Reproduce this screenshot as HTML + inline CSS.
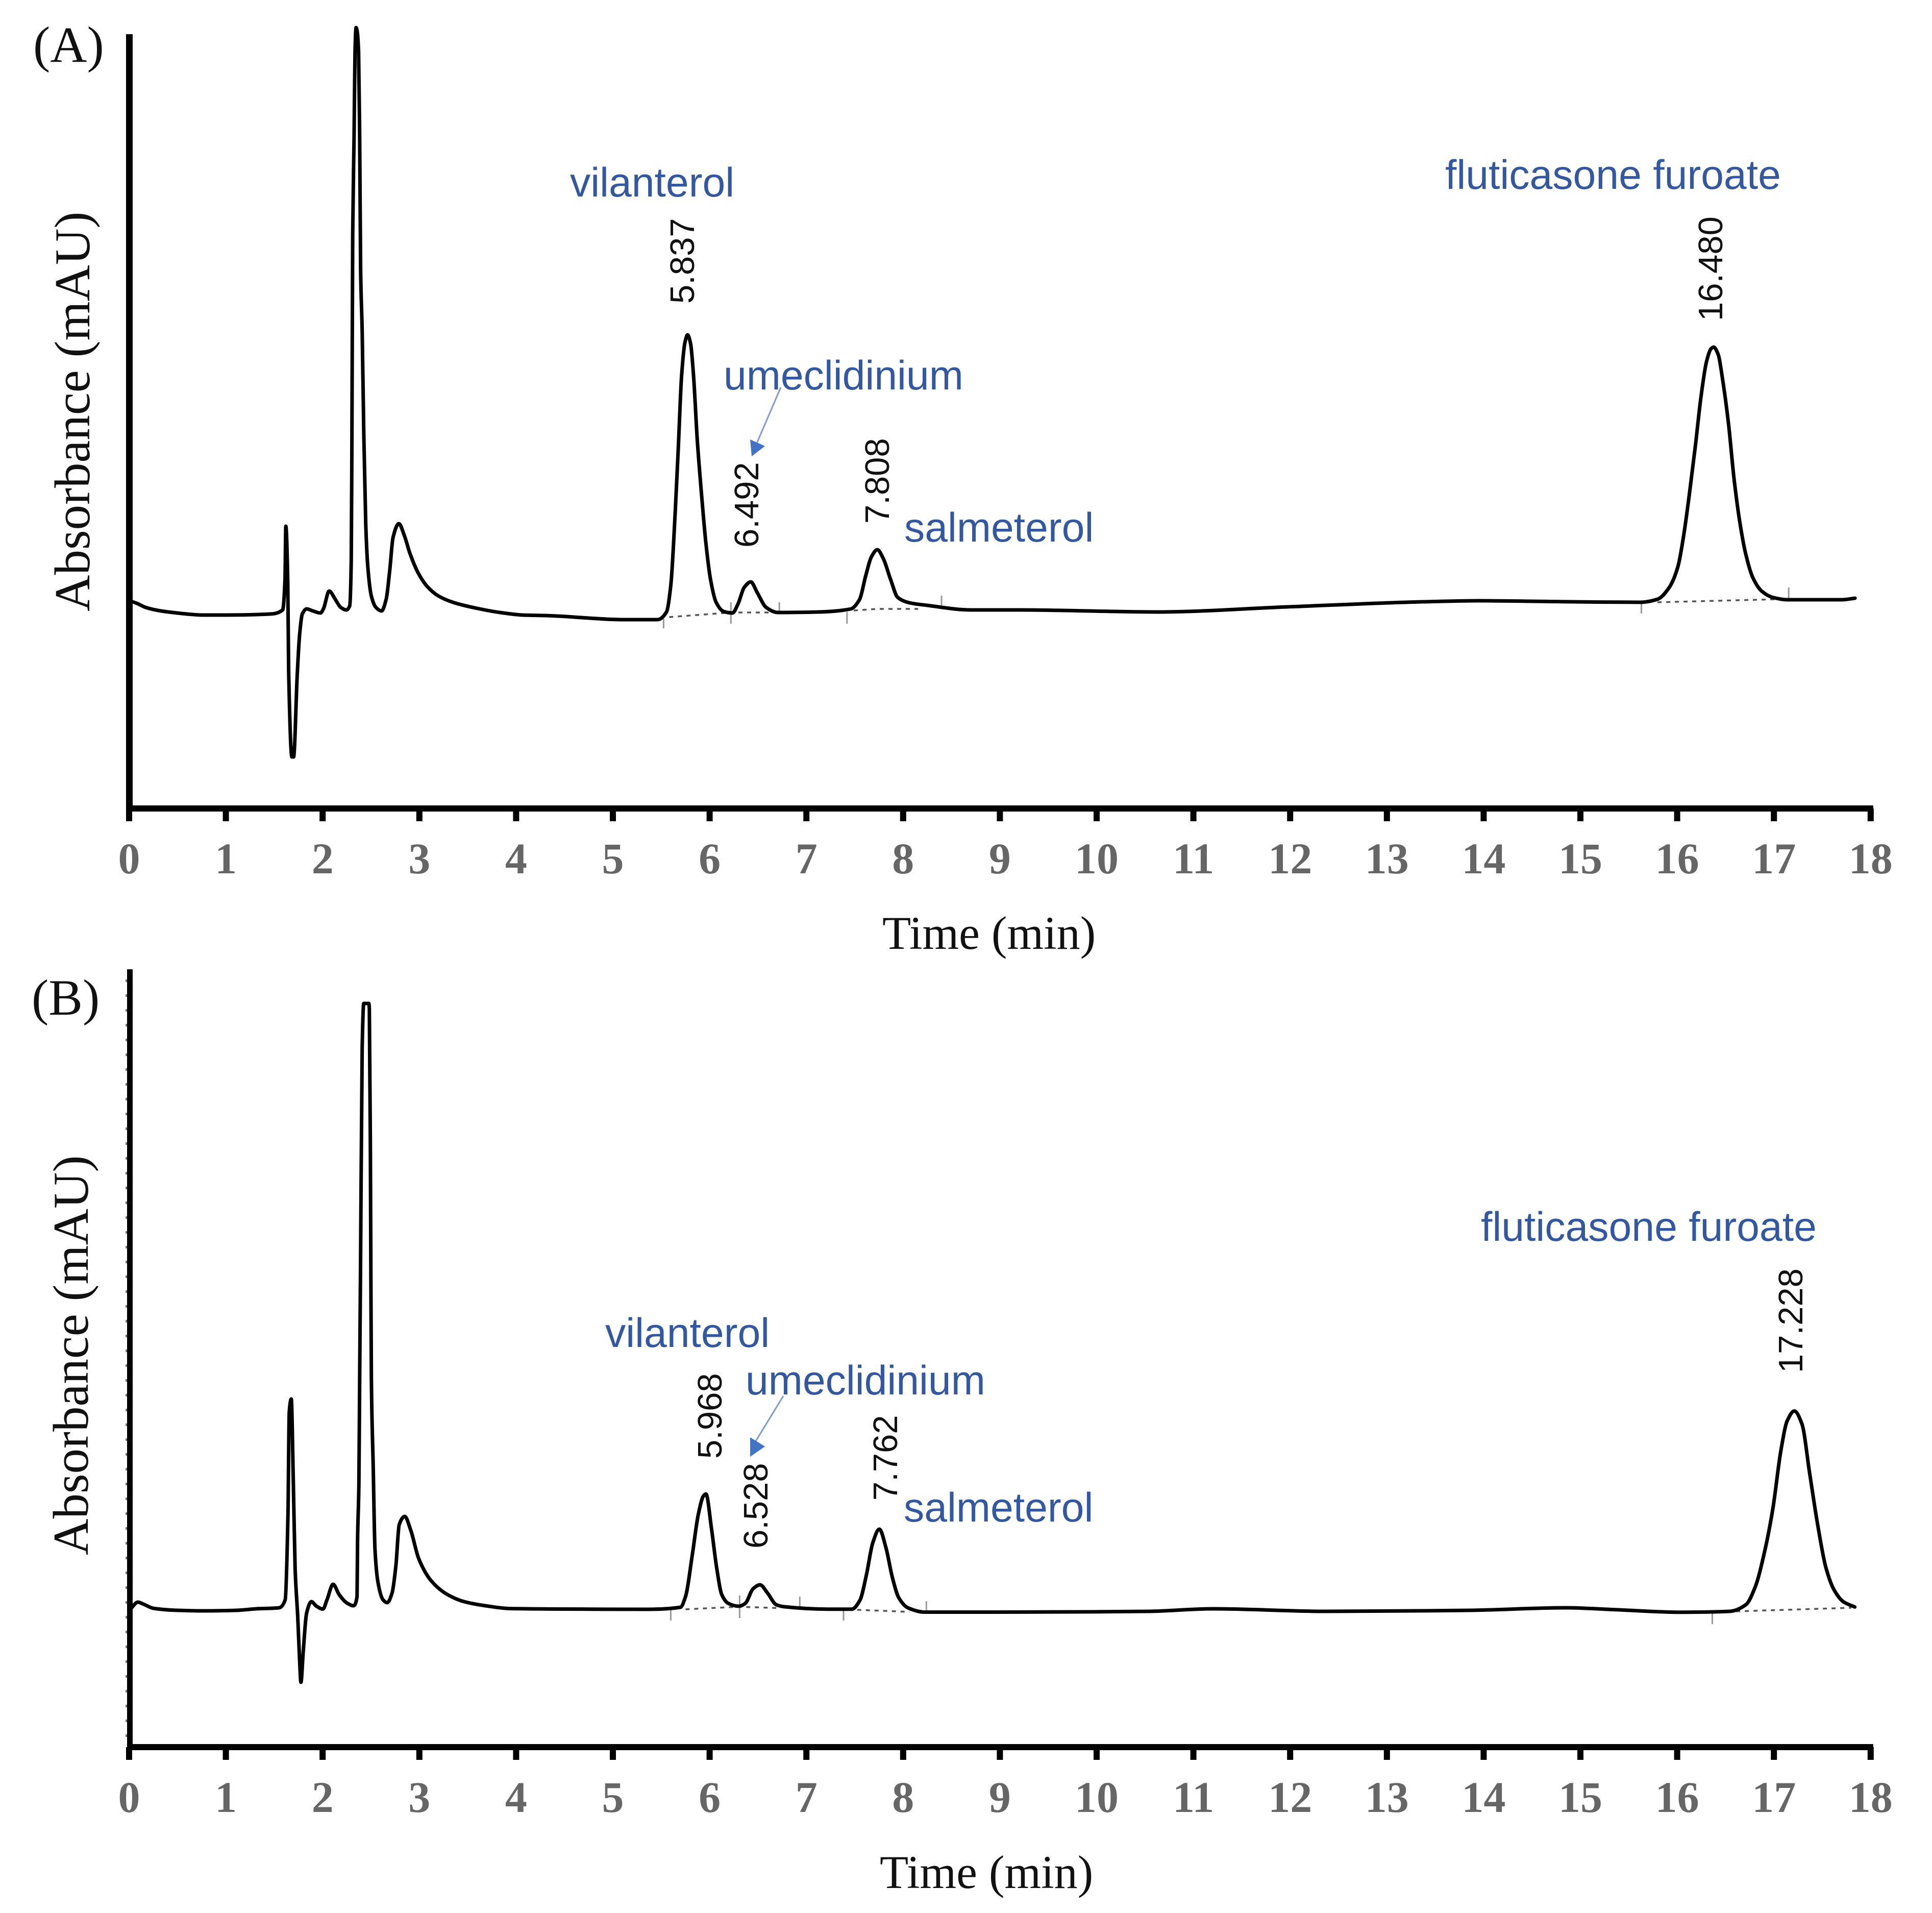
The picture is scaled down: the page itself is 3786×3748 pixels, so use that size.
<!DOCTYPE html>
<html lang="en">
<head>
<meta charset="utf-8">
<title>HPLC chromatograms A and B</title>
<style>
html,body{margin:0;padding:0;background:#fff;}
svg{display:block;}
.serif{font-family:"Liberation Serif",serif;}
.sans{font-family:"Liberation Sans",sans-serif;}
.tick-label{font-family:"Liberation Serif",serif;font-weight:bold;font-size:86px;fill:#666;text-anchor:middle;}
.axis-title{font-family:"Liberation Serif",serif;font-size:92px;fill:#111;}
.y-title{font-family:"Liberation Serif",serif;font-size:99px;fill:#111;}
.panel-letter{font-family:"Liberation Serif",serif;font-size:100px;fill:#111;}
.compound{font-family:"Liberation Sans",sans-serif;font-size:80.5px;fill:#33589f;}
.rt{font-family:"Liberation Sans",sans-serif;font-size:67px;fill:#111;}
</style>
</head>
<body>
<svg id="chart" xmlns="http://www.w3.org/2000/svg" width="3786" height="3748" viewBox="0 0 3786 3748">
  <rect x="0" y="0" width="3786" height="3748" fill="#ffffff"/>

  <g id="panelA"></g>
  <g id="panelB"></g>

  <text class="panel-letter" x="65" y="121">(A)</text>
  <text class="panel-letter" x="62" y="1988">(B)</text>

  <text class="y-title" transform="translate(175,1198) rotate(-90)">Absorbance (mAU)</text>
  <text class="y-title" transform="translate(172,3047) rotate(-90)">Absorbance (mAU)</text>
  <text class="axis-title" x="1729" y="1859">Time (min)</text>
  <text class="axis-title" x="1724" y="3699">Time (min)</text>

  <text class="compound" x="1117" y="385">vilanterol</text>
  <text class="compound" x="1418" y="763">umeclidinium</text>
  <text class="compound" x="1772" y="1061">salmeterol</text>
  <text class="compound" x="2832" y="370">fluticasone furoate</text>

  <text class="rt" transform="translate(1360,595) rotate(-90)">5.837</text>
  <text class="rt" transform="translate(1486,1073) rotate(-90)">6.492</text>
  <text class="rt" transform="translate(1742,1026) rotate(-90)">7.808</text>
  <text class="rt" transform="translate(3375,629) rotate(-90)">16.480</text>

  <line x1="1530" y1="759" x2="1478" y2="880" stroke="#7f9bd0" stroke-width="3"/>
  <polygon points="1470,861 1499,874 1473,894" fill="#4472c4"/>

  <text class="compound" x="1186" y="2639">vilanterol</text>
  <text class="compound" x="1461" y="2732">umeclidinium</text>
  <text class="compound" x="1771" y="2981">salmeterol</text>
  <text class="compound" x="2902" y="2431">fluticasone furoate</text>

  <text class="rt" transform="translate(1414,2858) rotate(-90)">5.968</text>
  <text class="rt" transform="translate(1504,3034) rotate(-90)">6.528</text>
  <text class="rt" transform="translate(1758,2940) rotate(-90)">7.762</text>
  <text class="rt" transform="translate(3532,2690) rotate(-90)">17.228</text>

  <line x1="1535" y1="2735" x2="1480" y2="2825" stroke="#7f9bd0" stroke-width="3"/>
  <polygon points="1470,2816 1499,2834 1470,2854" fill="#4472c4"/>
</svg>

<script>
// ---- shared axis data ----
var tickValues = [0,1,2,3,4,5,6,7,8,9,10,11,12,13,14,15,16,17,18];
var tickLabels = ["0","1","2","3","4","5","6","7","8","9","10","11","12","13","14","15","16","17","18"];

// ---- panel A: time (min) and signal (mAU, arbitrary) ----
var timeA = [0.02,0.08,0.17,0.30,0.45,0.775,0.99,1.457,1.587,1.611,1.62,1.64,1.649,1.683,1.70,1.738,1.762,1.79,1.835,1.90,1.977,2.008,2.068,2.13,2.187,2.245,2.28,2.296,2.303,2.311,2.325,2.335,2.346,2.356,2.372,2.383,2.393,2.409,2.425,2.446,2.467,2.504,2.551,2.609,2.657,2.694,2.728,2.788,2.846,2.904,2.989,3.081,3.2,3.363,3.6,3.832,4.069,4.306,5.129,5.461,5.554,5.598,5.645,5.677,5.711,5.746,5.772,5.803,5.833,5.872,5.917,5.962,6.009,6.067,6.144,6.236,6.294,6.357,6.425,6.492,6.584,6.705,7.126,7.459,7.551,7.612,7.672,7.733,7.794,7.87,7.944,8.065,8.248,8.703,9.209,10.627,11.971,13.379,13.954,14.907,15.618,15.797,15.918,16.008,16.065,16.125,16.188,16.246,16.304,16.351,16.377,16.425,16.467,16.53,16.588,16.646,16.707,16.783,16.873,16.989,17.139,17.706,17.838];
var signalA = [203,201,197,194,192,189.5,189.5,190.5,194.5,224,276.5,221,134.5,50.5,50.5,131.5,170,190.5,195.5,193.5,191.5,195.5,213,205,197,194.5,198.5,243,364.5,562.5,657,742,765,762,741,658,527,467,371,278,237,208,197,193.5,205,233.5,265.5,279,267,249.5,230.5,217.5,208,201.5,196,192,189.5,189,185,185,192.5,218,291.5,355,425,457,464,455.5,425,361.5,307,259.5,224.5,202,193,191.5,200.5,216.5,222,211.5,197,192,192.5,195.5,205,227.5,246.5,253.5,245,224.5,206.75,201.5,199,194.5,194.5,192.5,197.5,202.5,203.5,202.5,202,205,216.5,237,266,307,355,403,438,450.5,452,444.5,422,377.5,323,281.5,250,226,213,206.75,204.5,204.5,206];
var markerTimesA = [5.524,6.22,6.72,7.42,8.397,15.63,17.153];
var markerLowA = [176.5,181,192.5,181,199,191,205];
var markerHighA = [186,202,202,192.5,208.5,202,216.5];
var baselineTimesA = [[5.582,6.22,6.642],[7.49,7.733,8.155],[15.797,17.045]];
var baselineValuesA = [[187.5,192,192],[194,195.5,195.5],[202,205]];

// ---- panel B ----
var timeB = [0.02,0.09,0.15,0.25,0.5,0.775,1.112,1.313,1.55,1.613,1.642,1.655,1.676,1.697,1.716,1.743,1.761,1.776,1.8,1.834,1.884,1.934,2.003,2.045,2.108,2.172,2.254,2.319,2.356,2.361,2.375,2.383,2.392,2.409,2.425,2.478,2.483,2.494,2.499,2.504,2.523,2.541,2.573,2.625,2.667,2.718,2.757,2.792,2.849,2.91,2.994,3.126,3.294,3.463,3.7,3.935,4.472,5.345,5.698,5.751,5.82,5.883,5.936,5.962,6.02,6.073,6.125,6.194,6.302,6.368,6.45,6.521,6.598,6.689,6.774,7.23,7.47,7.554,7.62,7.686,7.754,7.822,7.888,7.954,8.049,8.223,8.945,10.53,11.2,12.37,13.858,14.85,15.35,16.046,16.541,16.71,16.807,16.905,16.989,17.073,17.137,17.211,17.29,17.369,17.453,17.537,17.622,17.717,17.836];
var signalB = [135,141,139,135,133,132.5,133,134.5,135.5,143.25,227,327,340,260.5,173.5,126.5,86.5,62.5,93,130,141.5,137.25,134.25,143.25,158.5,148.25,140,137.5,146.5,200,257,360.5,470.5,684.5,727.5,727.5,722.5,579,456.5,360.5,273.5,193.5,160,143.25,140.5,150,176.5,217,225,211.75,183.5,161.5,148.25,141.5,137.25,134.75,134.25,134,136,146.5,186.7,227,245,247,212.5,174.5,148.5,139.75,137,139.75,154.25,158,150,138.5,136.5,134.15,134.15,143,167.5,199,212.5,194.5,165.5,145.5,135.5,131.25,131.25,132,134.5,132,133,135.5,133.7,131.15,132,138.5,156,191,232.5,290,318.5,328.25,315.5,267.5,216.5,175,153,141.5,136.25];
var markerTimesB = [5.598,6.31,6.932,7.384,8.24,16.363];
var markerLowB = [123,125.5,135.5,123,132,119.5];
var markerHighB = [135.5,147.5,146.5,134,142,132];
var baselineTimesB = [[5.751,6.302,6.689],[7.525,8.065],[16.61,17.8]];
var baselineValuesB = [[134,136.5,135.3],[133.5,131.5],[132,135.5]];

var SVG_NS = "http://www.w3.org/2000/svg";

function xScale(t){ return 253 + 189.6 * t; }
function makeYScale(zeroY){ return function(v){ return zeroY - 2 * v; }; }

// monotone cubic path so sharp spikes do not overshoot
function monotonePath(xs, ys){
  var n = xs.length, d = [], m = [], i;
  for(i = 0; i < n - 1; i++){ d.push((ys[i+1] - ys[i]) / (xs[i+1] - xs[i])); }
  m.push(d[0]);
  for(i = 1; i < n - 1; i++){
    if(d[i-1] * d[i] <= 0){ m.push(0); }
    else{
      var h0 = xs[i] - xs[i-1], h1 = xs[i+1] - xs[i];
      m.push(3 * (h0 + h1) / ((2 * h1 + h0) / d[i-1] + (h1 + 2 * h0) / d[i]));
    }
  }
  m.push(d[n-2]);
  var p = "M" + xs[0].toFixed(2) + " " + ys[0].toFixed(2);
  for(i = 0; i < n - 1; i++){
    var h = (xs[i+1] - xs[i]) / 3;
    p += "C" + (xs[i] + h).toFixed(2) + " " + (ys[i] + m[i] * h).toFixed(2) + " " +
         (xs[i+1] - h).toFixed(2) + " " + (ys[i+1] - m[i+1] * h).toFixed(2) + " " +
         xs[i+1].toFixed(2) + " " + ys[i+1].toFixed(2);
  }
  return p;
}

function drawPanel(group, opts){
  var y = makeYScale(opts.zeroY);
  var lineY = opts.axisY;

  var yAxis = document.createElementNS(SVG_NS, "rect");
  
  
  yAxis.setAttribute("x", opts.yAxisLeft);
  yAxis.setAttribute("y", opts.yAxisTop);
  yAxis.setAttribute("width", 260 - opts.yAxisLeft);
  yAxis.setAttribute("height", lineY - opts.yAxisTop + 6);
  yAxis.setAttribute("fill", "#000");
  group.appendChild(yAxis);

  if(opts.minorStep){
    for(var py = opts.yAxisTop + 20; py < lineY - 10; py += opts.minorStep){
      var minor = document.createElementNS(SVG_NS, "rect");
      
      
      minor.setAttribute("x", opts.yAxisLeft - 3);
      minor.setAttribute("y", py);
      minor.setAttribute("width", 3);
      minor.setAttribute("height", 5);
      minor.setAttribute("fill", "#777");
      group.appendChild(minor);
    }
  }

  var xAxis = document.createElementNS(SVG_NS, "rect");
  
  
  xAxis.setAttribute("x", opts.yAxisLeft);
  xAxis.setAttribute("y", lineY - 6);
  xAxis.setAttribute("width", xScale(18) + 5 - opts.yAxisLeft);
  xAxis.setAttribute("height", 12);
  xAxis.setAttribute("fill", "#000");
  group.appendChild(xAxis);

  tickValues.forEach(function(t, i){
    var tick = document.createElementNS(SVG_NS, "rect");
    
    
    tick.setAttribute("x", xScale(t) - 6);
    tick.setAttribute("y", lineY);
    tick.setAttribute("width", 12);
    tick.setAttribute("height", 25);
    tick.setAttribute("fill", "#000");
    group.appendChild(tick);

    var label = document.createElementNS(SVG_NS, "text");
    
    
    label.setAttribute("class", "tick-label");
    label.setAttribute("x", xScale(t));
    label.setAttribute("y", lineY + 127);
    label.textContent = tickLabels[i];
    group.appendChild(label);
  });

  opts.baseTimes.forEach(function(seg, i){
    var dash = document.createElementNS(SVG_NS, "polyline");
    
    
    dash.setAttribute("points", seg.map(function(t, j){ return xScale(t) + "," + y(opts.baseVals[i][j]); }).join(" "));
    dash.setAttribute("fill", "none");
    dash.setAttribute("stroke", "#555");
    dash.setAttribute("stroke-width", "3.5");
    dash.setAttribute("stroke-dasharray", "8 9");
    group.appendChild(dash);
  });

  opts.markTimes.forEach(function(t, i){
    var mark = document.createElementNS(SVG_NS, "line");
    
    
    mark.setAttribute("x1", xScale(t));
    mark.setAttribute("x2", xScale(t));
    mark.setAttribute("y1", y(opts.markLow[i]));
    mark.setAttribute("y2", y(opts.markHigh[i]));
    mark.setAttribute("stroke", "#999");
    mark.setAttribute("stroke-width", "3");
    group.appendChild(mark);
  });

  var trace = document.createElementNS(SVG_NS, "path");
  
  
  trace.setAttribute("d", monotonePath(opts.times.map(xScale), opts.signal.map(y)));
  trace.setAttribute("fill", "none");
  trace.setAttribute("stroke", "#000");
  trace.setAttribute("stroke-width", "7");
  trace.setAttribute("stroke-linejoin", "round");
  trace.setAttribute("stroke-linecap", "round");
  group.appendChild(trace);
}

drawPanel(document.getElementById("panelA"), {
  zeroY: 1584, axisY: 1584, yAxisLeft: 247, yAxisTop: 67, minorStep: 0,
  times: timeA, signal: signalA,
  markTimes: markerTimesA, markLow: markerLowA, markHigh: markerHighA,
  baseTimes: baselineTimesA, baseVals: baselineValuesA
});
drawPanel(document.getElementById("panelB"), {
  zeroY: 3421, axisY: 3423, yAxisLeft: 249, yAxisTop: 1899, minorStep: 29,
  times: timeB, signal: signalB,
  markTimes: markerTimesB, markLow: markerLowB, markHigh: markerHighB,
  baseTimes: baselineTimesB, baseVals: baselineValuesB
});
</script>
</body>
</html>
